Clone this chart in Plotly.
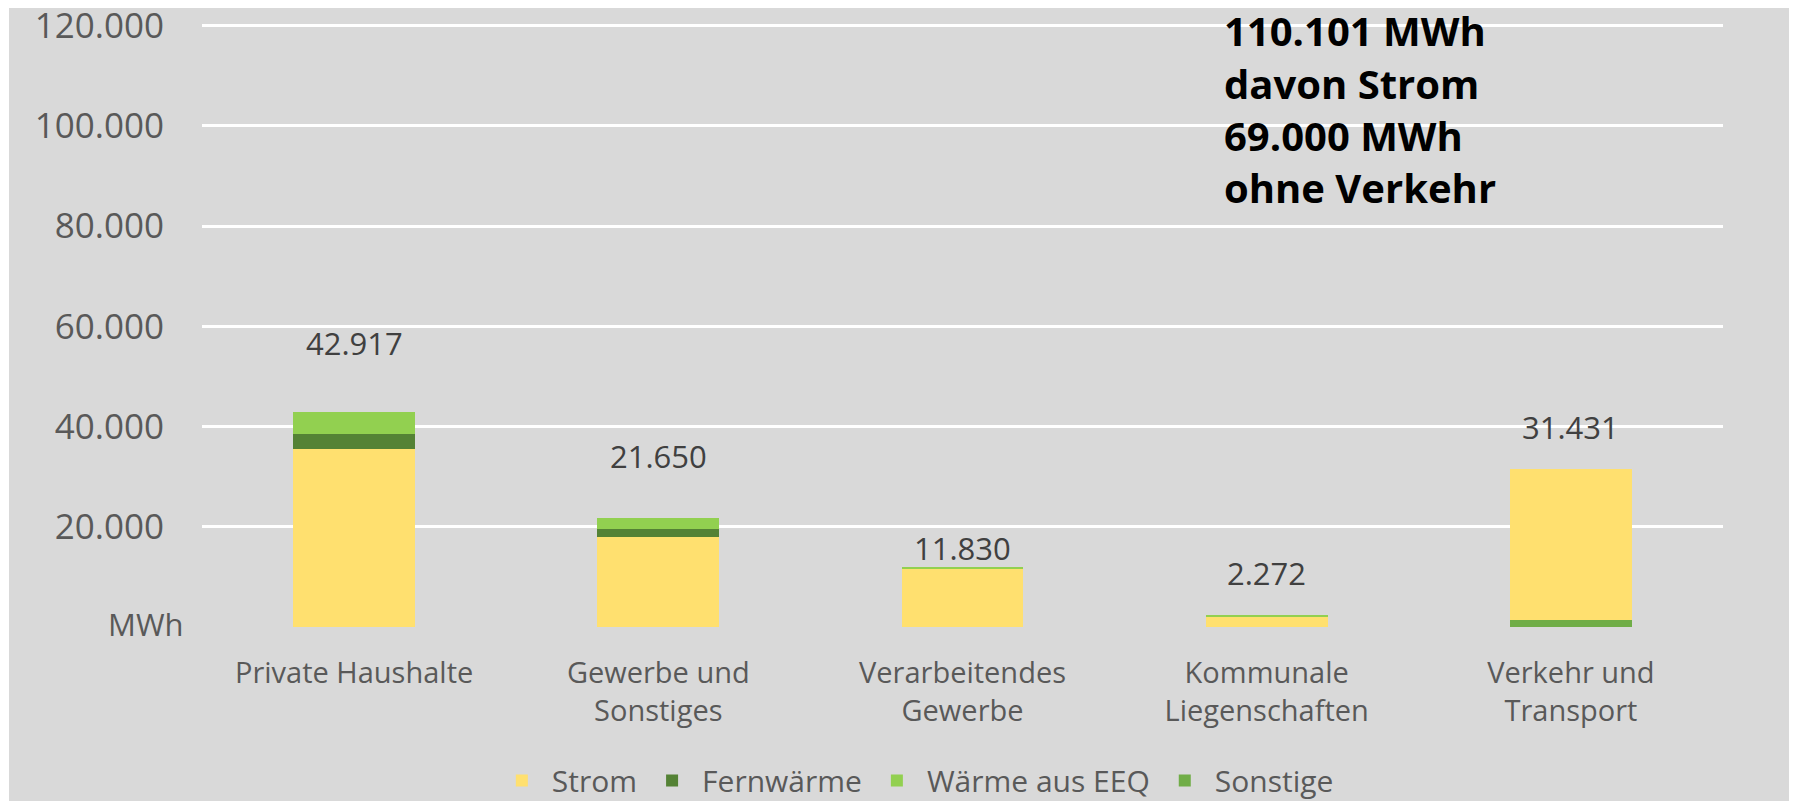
import plotly.graph_objects as go

# dados (MWh)
kategorien = ["Private Haushalte", "Gewerbe und<br>Sonstiges", "Verarbeitendes<br>Gewerbe",
              "Kommunale<br>Liegenschaften", "Verkehr und<br>Transport"]
strom = [35500, 18000, 11630, 2100, 30031]
fernwaerme = [3000, 1550, 0, 0, 0]
waerme_eeq = [4417, 2100, 200, 172, 0]
sonstige = [0, 0, 0, 0, 1400]

y_ticks = [20000, 40000, 60000, 80000, 100000, 120000]
info_text = "110.101 MWh<br>davon Strom<br>69.000 MWh<br>ohne Verkehr"

# deslocamento dos rotulos de total (px)
label_shift = [69, 62, 20, 43, 42]

gray_txt = "#595959"
bg = "#D9D9D9"
font = "Open Sans"

fig = go.Figure()
# Sonstige fica na base da pilha (como no original), mas por ultimo na legenda
fig.add_trace(go.Bar(x=kategorien, y=sonstige, name="Sonstige", marker_color="#70AD47", legendrank=4))
fig.add_trace(go.Bar(x=kategorien, y=strom, name="Strom", marker_color="#FFE06F", legendrank=1))
fig.add_trace(go.Bar(x=kategorien, y=fernwaerme, name="Fernwärme", marker_color="#548235", legendrank=2))
fig.add_trace(go.Bar(x=kategorien, y=waerme_eeq, name="Wärme aus EEQ", marker_color="#92D050", legendrank=3))
fig.update_traces(marker_line_width=0, hoverinfo="skip")

totals = [a + b + c + d for a, b, c, d in zip(strom, fernwaerme, waerme_eeq, sonstige)]
for k, t, s in zip(kategorien, totals, label_shift):
    fig.add_annotation(x=k, y=t, text=f"{t:,}".replace(",", "."), showarrow=False,
                       yanchor="middle", yshift=s, font=dict(family=font, size=31, color="#404040"))

fig.add_annotation(xref="paper", x=-0.0105, y=0, xanchor="right", yanchor="middle", yshift=3,
                   text="MWh", showarrow=False, font=dict(family=font, size=31, color=gray_txt))

fig.add_annotation(xref="paper", yref="paper", x=0.6706, y=0.99, xanchor="left", yanchor="middle",
                   align="left", text="110.101 MWh", showarrow=False,
                   font=dict(family=font, size=40, color="black", weight="bold"))
fig.add_annotation(xref="paper", yref="paper", x=0.6706, y=0.99, xanchor="left", yanchor="top",
                   align="left", text=info_text.split("<br>", 1)[1], showarrow=False, yshift=-24,
                   font=dict(family=font, size=40, color="black", weight="bold"))

# fundo cinza com sombra a direita
fig.add_shape(type="rect", xref="paper", yref="paper", x0=-0.1269, x1=1.0441, y0=-0.32, y1=1.05,
              fillcolor=bg, line_width=0, layer="below")
fig.add_shape(type="rect", xref="paper", yref="paper", x0=1.0441, x1=1.0487, y0=-0.32, y1=1.025,
              fillcolor="#a8a8a8", line_width=0, layer="below")

# a pagina tem margem de 8px no body -> margens compensadas
fig.update_layout(
    barmode="stack",
    bargap=0.6,
    separators=",.",
    width=1797, height=801,
    margin=dict(l=194, r=82, t=16, b=182, autoexpand=False),
    paper_bgcolor="white",
    plot_bgcolor="rgba(0,0,0,0)",
    font=dict(family=font, color=gray_txt),
    showlegend=True,
    legend=dict(orientation="h", traceorder="normal", x=0.469, xanchor="center", y=-0.2546,
                yanchor="middle", itemwidth=50, font=dict(size=30, color=gray_txt),
                bgcolor="rgba(0,0,0,0)"),
)
fig.update_yaxes(range=[0, 120300], tickvals=y_ticks, tickformat=",.0f", automargin=False,
                 tickfont=dict(size=35, color=gray_txt), ticklabelstandoff=37,
                 ticklabeloverflow="allow",
                 showgrid=True, gridcolor="white", gridwidth=3,
                 zeroline=True, zerolinecolor=bg, zerolinewidth=3, showline=False)
fig.update_xaxes(tickfont=dict(size=29, color=gray_txt), ticklabelstandoff=26, automargin=False,
                 showline=False, showgrid=False)

fig.write_html("out.html")
